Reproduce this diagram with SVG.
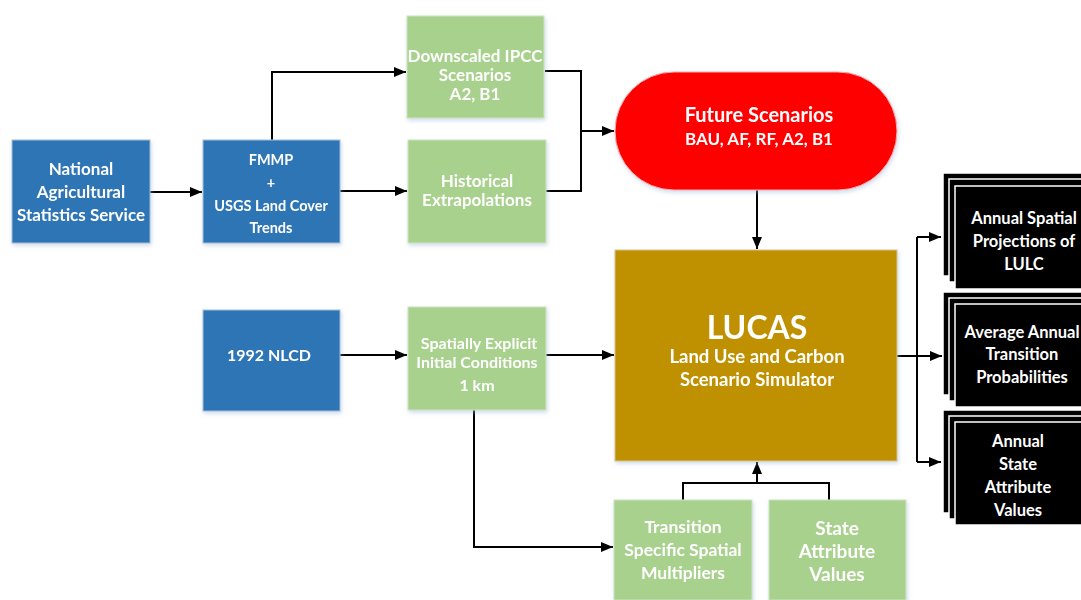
<svg xmlns="http://www.w3.org/2000/svg" width="1081" height="600" viewBox="0 0 1081 600">
<defs>
<marker id="ah" markerWidth="12" markerHeight="10" refX="12" refY="5" orient="auto" markerUnits="userSpaceOnUse">
<path d="M0,0 L12,5 L0,10 Z" fill="#000"/>
</marker>
<filter id="sh" x="-10%" y="-10%" width="130%" height="130%">
<feDropShadow dx="1" dy="2" stdDeviation="2" flood-color="#9db6d8" flood-opacity="0.5"/>
</filter>
</defs>
<style>
.blue{fill:#2e74b5;stroke:#a8bfd8;stroke-width:1}
.green{fill:#a9d18e;stroke:#cfe3c0;stroke-width:1}
.blk{fill:#000;stroke:#fff;stroke-width:1.5}
text{font-family:Lato,"Open Sans","Liberation Sans",sans-serif;font-weight:bold;fill:#fff;text-anchor:middle}
.t{font-size:17px}
.s{font-size:16.5px}
.c{fill:none;stroke:#000;stroke-width:2}
</style>
<rect width="1081" height="600" fill="#fff"/>
<g id="connectors">
<path class="c" d="M150,192 H202" marker-end="url(#ah)"/>
<path class="c" d="M272,140 V72 H406" marker-end="url(#ah)"/>
<path class="c" d="M340,191 H407" marker-end="url(#ah)"/>
<path class="c" d="M545,71 H581 V191 H546"/>
<path class="c" d="M581,131 H614" marker-end="url(#ah)"/>
<path class="c" d="M757,190 V249" marker-end="url(#ah)"/>
<path class="c" d="M340,355 H407" marker-end="url(#ah)"/>
<path class="c" d="M546,355 H614" marker-end="url(#ah)"/>
<path class="c" d="M474,410 V547 H613" marker-end="url(#ah)"/>
<path class="c" d="M683,500 V483 H829 V500"/>
<path class="c" d="M757,483 V462" marker-end="url(#ah)"/>
<path class="c" d="M897,356 H917"/>
<path class="c" d="M917,237 V462"/>
<path class="c" d="M917,237 H941" marker-end="url(#ah)"/>
<path class="c" d="M917,356 H942" marker-end="url(#ah)"/>
<path class="c" d="M917,462 H941" marker-end="url(#ah)"/>
</g>
<g id="nass" filter="url(#sh)">
<rect class="blue" x="12" y="140" width="138" height="103"/>
<text class="t" x="81" y="175">National</text>
<text class="t" x="81" y="198">Agricultural</text>
<text class="t" x="81" y="221">Statistics Service</text>
</g>
<g id="fmmp" filter="url(#sh)">
<rect class="blue" x="203" y="140" width="137" height="103"/>
<text x="271" y="165" style="font-size:14.5px">FMMP</text>
<text x="271" y="188" style="font-size:14.5px">+</text>
<text x="271" y="211" style="font-size:14.5px">USGS Land Cover</text>
<text x="271" y="233" style="font-size:14.5px">Trends</text>
</g>
<g id="ipcc" filter="url(#sh)">
<rect class="green" x="407" y="16" width="137" height="102"/>
<text class="t" x="475" y="62">Downscaled IPCC</text>
<text class="t" x="475" y="81">Scenarios</text>
<text class="t" x="475" y="100">A2, B1</text>
</g>
<g id="hist" filter="url(#sh)">
<rect class="green" x="408" y="140" width="138" height="103"/>
<text class="t" x="477" y="187">Historical</text>
<text class="t" x="477" y="206">Extrapolations</text>
</g>
<g id="future" filter="url(#sh)">
<rect x="615" y="72" width="282" height="118" rx="59" ry="59" fill="#ff0000" stroke="#f3b0b0" stroke-width="1"/>
<text x="759" y="122" style="font-size:20px">Future Scenarios</text>
<text x="759" y="145" style="font-size:17px">BAU, AF, RF, A2, B1</text>
</g>
<g id="lucas" filter="url(#sh)">
<rect x="615" y="250" width="282" height="211" fill="#bf9000" stroke="#d8c48a" stroke-width="1"/>
<text x="757" y="339" style="font-size:32px">LUCAS</text>
<text x="757" y="363" style="font-size:18.5px">Land Use and Carbon</text>
<text x="757" y="386" style="font-size:18.5px">Scenario Simulator</text>
</g>
<g id="nlcd" filter="url(#sh)">
<rect class="blue" x="203" y="310" width="137" height="101"/>
<text x="269" y="361" style="font-size:16px">1992 NLCD</text>
</g>
<g id="spatial" filter="url(#sh)">
<rect class="green" x="408" y="307" width="138" height="103"/>
<text x="479" y="349" style="font-size:16px">Spatially Explicit</text>
<text x="477" y="368" style="font-size:16px">Initial Conditions</text>
<text x="477" y="391" style="font-size:16px">1 km</text>
</g>
<g id="tssm" filter="url(#sh)">
<rect class="green" x="614" y="500" width="138" height="100"/>
<text x="683" y="533" style="font-size:17.5px">Transition</text>
<text x="683" y="556" style="font-size:17.5px">Specific Spatial</text>
<text x="683" y="579" style="font-size:17.5px">Multipliers</text>
</g>
<g id="sav" filter="url(#sh)">
<rect class="green" x="769" y="500" width="137" height="100"/>
<text x="837" y="535" style="font-size:19px">State</text>
<text x="837" y="558" style="font-size:19px">Attribute</text>
<text x="837" y="581" style="font-size:19px">Values</text>
</g>
<g id="out1">
<rect class="blk" x="943" y="173" width="145" height="103"/>
<rect class="blk" x="949" y="179" width="145" height="103"/>
<rect class="blk" x="955" y="186" width="145" height="103"/>
<text class="s" x="1024" y="224">Annual Spatial</text>
<text class="s" x="1024" y="247">Projections of</text>
<text class="s" x="1024" y="270">LULC</text>
</g>
<g id="out2">
<rect class="blk" x="943" y="292" width="145" height="103"/>
<rect class="blk" x="949" y="298" width="145" height="103"/>
<rect class="blk" x="955" y="304" width="145" height="103"/>
<text class="s" x="1022" y="338">Average Annual</text>
<text class="s" x="1022" y="360">Transition</text>
<text class="s" x="1022" y="383">Probabilities</text>
</g>
<g id="out3">
<rect class="blk" x="943" y="410" width="145" height="103"/>
<rect class="blk" x="949" y="416" width="145" height="103"/>
<rect class="blk" x="955" y="422" width="145" height="103"/>
<text class="s" x="1018" y="447">Annual</text>
<text class="s" x="1018" y="470">State</text>
<text class="s" x="1018" y="493">Attribute</text>
<text class="s" x="1018" y="516">Values</text>
</g>
</svg>
